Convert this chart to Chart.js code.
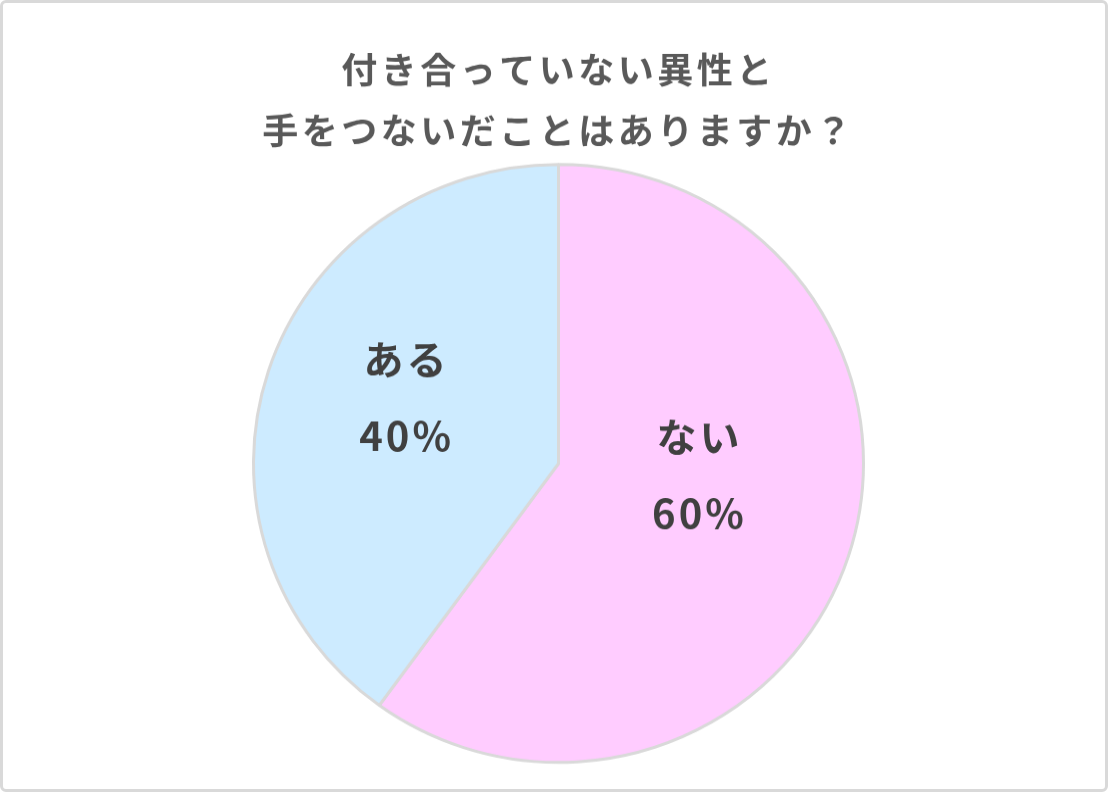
<!DOCTYPE html>
<html lang="ja">
<head>
    <meta charset="UTF-8">
    <title>付き合っていない異性と手をつないだことはありますか？</title>
    <script src="https://cdn.jsdelivr.net/npm/chart.js"></script>
    <style>
        body {
            margin: 0;
            padding: 0;
            background-color: #fff;
        }

        .chart-box {
            position: relative;
            width: 1108px;
            height: 792px;
            overflow: hidden;
        }

        /* the original picture is slightly squashed vertically */
        .chart-box canvas {
            position: absolute;
            left: 0;
            top: 0;
            transform-origin: 0 0;
            transform: scaleY(0.9802);
        }

        .frame {
            position: absolute;
            left: 0;
            top: 0;
            width: 1108px;
            height: 792px;
            box-sizing: border-box;
            border: 3px solid #d9d9d9;
            border-radius: 6px;
            pointer-events: none;
        }
    </style>
</head>
<body>
    <div class="chart-box">
        <canvas id="pieChart" width="1108" height="808"></canvas>
        <div class="frame"></div>
    </div>

    <script>
        const titleLines = ['付き合っていない異性と', '手をつないだことはありますか？'];
        const categories = ['ない', 'ある'];
        const percentages = [60, 40];
        const sliceColors = ['#ffccff', '#cdebff'];

        const FONT = '"Noto Sans CJK JP", "Noto Sans", sans-serif';

        // letter spacing for the title (Chart.js doesn't set it itself)
        const spacingPlugin = {
            id: 'titleSpacing',
            beforeDraw(chart) {
                chart.ctx.letterSpacing = '3.5px';
            },
            beforeDatasetsDraw(chart) {
                chart.ctx.letterSpacing = '0px';
            }
        };

        // category + percent written inside each slice
        const sliceLabels = {
            id: 'sliceLabels',
            afterDatasetsDraw(chart, args, opts) {
                const ctx = chart.ctx;
                const meta = chart.getDatasetMeta(0);
                ctx.save();
                ctx.font = 'bold 40px ' + FONT;
                ctx.letterSpacing = '3px';
                ctx.fillStyle = '#404040';
                ctx.textAlign = 'center';
                ctx.textBaseline = 'middle';
                meta.data.forEach((arc, i) => {
                    const r = arc.outerRadius;
                    const off = opts.offsets[i];
                    const x = arc.x + off[0] * r;
                    const y = arc.y + off[1] * r;
                    ctx.fillText(categories[i], x + 1.5, y - 39);
                    ctx.fillText(percentages[i] + '%', x + 1.5, y + 39);
                });
                ctx.restore();
            }
        };

        const ctx = document.getElementById('pieChart').getContext('2d');
        const chart = new Chart(ctx, {
            type: 'pie',
            data: {
                labels: categories,
                datasets: [{
                    data: percentages,
                    backgroundColor: sliceColors,
                    borderColor: '#d9d9d9',
                    borderWidth: 3
                }]
            },
            options: {
                responsive: false,
                animation: false,
                layout: {
                    padding: { top: 0, bottom: 28.7, left: 9, right: 0 }
                },
                plugins: {
                    legend: { display: false },
                    tooltip: { enabled: false },
                    title: {
                        display: true,
                        text: titleLines,
                        color: '#595959',
                        font: { family: FONT, size: 36, weight: 'bold', lineHeight: 62.2 / 36 },
                        padding: { top: 40.3, bottom: 1.6 }
                    },
                    sliceLabels: {
                        offsets: [[0.457, 0.038], [-0.503, -0.22]]
                    }
                }
            },
            plugins: [spacingPlugin, sliceLabels]
        });
    </script>
</body>
</html>
